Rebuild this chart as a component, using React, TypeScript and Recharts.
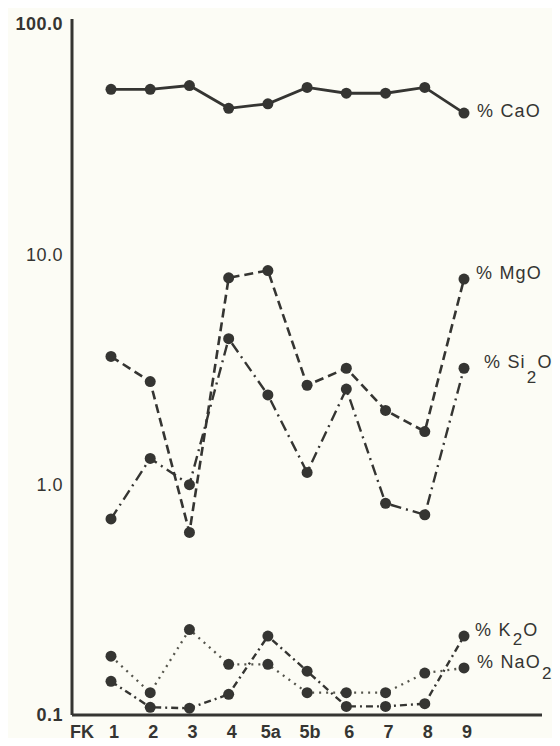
import React from "react";
import { LineChart, Line, XAxis, YAxis } from "recharts";

const categories = ["1", "2", "3", "4", "5a", "5b", "6", "7", "8", "9"];
const cao = [52, 52, 54, 43, 45, 53, 50, 50, 53, 41];
const mgo = [3.6, 2.8, 0.62, 7.9, 8.5, 2.7, 3.2, 2.1, 1.7, 7.8];
const sio2 = [0.71, 1.3, 1.0, 4.3, 2.45, 1.13, 2.6, 0.83, 0.74, 3.2];
const k2o = [0.14, 0.108, 0.107, 0.123, 0.22, 0.155, 0.109, 0.109, 0.112, 0.22];
const nao2 = [0.18, 0.125, 0.235, 0.166, 0.166, 0.125, 0.125, 0.125, 0.152, 0.16];
const yTicks = [0.1, 1, 10, 100];
const yTickLabels = ["0.1", "1.0", "10.0", "100.0"];
const xPrefix = "FK";

const data = categories.map((c, i) => ({
  cat: c,
  cao: cao[i],
  mgo: mgo[i],
  sio2: sio2[i],
  k2o: k2o[i],
  nao2: nao2[i],
}));

const INK = "#353532";
const FONT = "'Liberation Sans', Arial, sans-serif";

type LabelPart = { t: string; sub?: boolean };

const makeEndLabel = (parts: LabelPart[], dx: number, dy: number, subDrop: number) => (props: any) => {
  const { x, y, index } = props;
  if (index !== categories.length - 1 || x == null || y == null) return <g />;
  let shifted = false;
  return (
    <text
      x={x + dx}
      y={y + dy}
      dy="0.36em"
      fontFamily={FONT}
      fontSize={18}
      letterSpacing={1.2}
      fill={INK}
    >
      {parts.map((p, i) => {
        let d = 0;
        if (p.sub && !shifted) {
          d = subDrop;
          shifted = true;
        } else if (!p.sub && shifted) {
          d = -subDrop;
          shifted = false;
        }
        return (
          <tspan key={i} dy={d} dx={p.sub ? 1 : 0} fontSize={p.sub ? 17 : 18}>
            {p.t}
          </tspan>
        );
      })}
    </text>
  );
};

const XTick = (props: any) => {
  const { x, y, payload, index } = props;
  return (
    <g>
      {index === 0 && (
        <text
          x={x - 29}
          y={y}
          dy={23}
          textAnchor="middle"
          fontFamily={FONT}
          fontSize={18}
          fontWeight={700}
          fill={INK}
        >
          {xPrefix}
        </text>
      )}
      <text
        x={x + 3}
        y={y}
        dy={23}
        textAnchor="middle"
        fontFamily={FONT}
        fontSize={18}
        fontWeight={700}
        fill={INK}
      >
        {payload.value}
      </text>
    </g>
  );
};

const YTick = (props: any) => {
  const { x, y, payload } = props;
  const idx = yTicks.indexOf(payload.value);
  const label = idx >= 0 ? yTickLabels[idx] : String(payload.value);
  const heavy = payload.value === 100 || payload.value === 0.1;
  return (
    <text
      x={x - 9}
      y={y}
      dy="0.36em"
      textAnchor="end"
      fontFamily={FONT}
      fontSize={18}
      fontWeight={heavy ? 700 : 400}
      letterSpacing={0.5}
      fill={INK}
    >
      {label}
    </text>
  );
};

const dotStyle = { r: 5.5, fill: INK, stroke: "none", strokeWidth: 0 };

export default function App() {
  return (
    <div style={{ margin: -8, width: 560, height: 746, background: "#fcfcf5", position: "relative" }}>
      <LineChart
        width={560}
        height={746}
        data={data}
        margin={{ top: 19, right: 18, bottom: 0, left: 0 }}
      >
        <XAxis
          dataKey="cat"
          height={31}
          padding={{ left: 39, right: 78 }}
          axisLine={{ stroke: INK, strokeWidth: 3 }}
          tickLine={false}
          tickSize={0}
          tickMargin={0}
          tick={<XTick />}
          interval={0}
        />
        <YAxis
          scale="log"
          type="number"
          domain={[0.1, 105]}
          allowDataOverflow
          ticks={yTicks}
          width={72}
          axisLine={{ stroke: INK, strokeWidth: 3 }}
          tickLine={false}
          tickSize={0}
          tickMargin={0}
          tick={<YTick />}
          interval={0}
        />
        <Line
          type="linear"
          dataKey="cao"
          stroke={INK}
          strokeWidth={2.8}
          dot={dotStyle}
          activeDot={false}
          isAnimationActive={false}
          label={makeEndLabel([{ t: "% CaO" }], 13, 4, 0)}
        />
        <Line
          type="linear"
          dataKey="mgo"
          stroke={INK}
          strokeWidth={2.6}
          strokeDasharray="9 5"
          dot={dotStyle}
          activeDot={false}
          isAnimationActive={false}
          label={makeEndLabel([{ t: "% MgO" }], 12, 0, 0)}
        />
        <Line
          type="linear"
          dataKey="sio2"
          stroke={INK}
          strokeWidth={2.4}
          strokeDasharray="11 5 2 5"
          dot={dotStyle}
          activeDot={false}
          isAnimationActive={false}
          label={makeEndLabel([{ t: "% Si" }, { t: "2", sub: true }, { t: "O" }], 20, 0, 15)}
        />
        <Line
          type="linear"
          dataKey="k2o"
          stroke={INK}
          strokeWidth={2.4}
          strokeDasharray="7 4 2 4"
          dot={dotStyle}
          activeDot={false}
          isAnimationActive={false}
          label={makeEndLabel([{ t: "% K" }, { t: "2", sub: true }, { t: "O" }], 11, 0, 9)}
        />
        <Line
          type="linear"
          dataKey="nao2"
          stroke="#55554c"
          strokeWidth={2.3}
          strokeDasharray="2 5"
          dot={dotStyle}
          activeDot={false}
          isAnimationActive={false}
          label={makeEndLabel([{ t: "% NaO" }, { t: "2", sub: true }], 13, 0, 11)}
        />
      </LineChart>
    </div>
  );
}
